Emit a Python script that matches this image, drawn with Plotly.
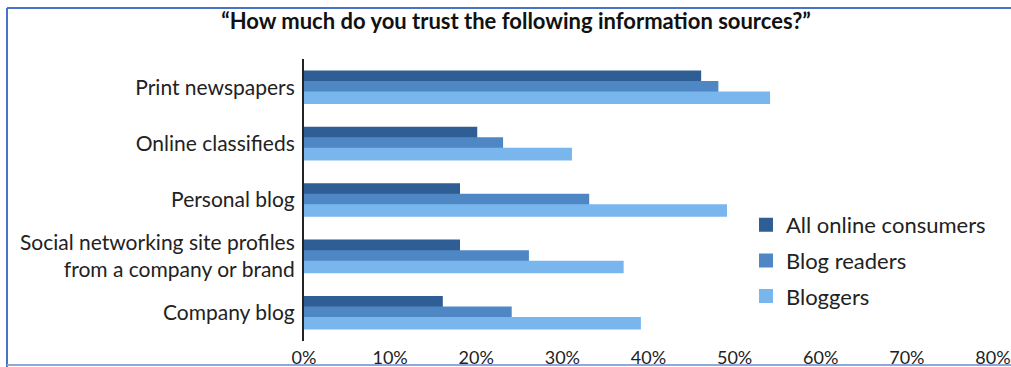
import plotly.graph_objects as go

# Survey categories (top to bottom) and share of respondents who trust each source (%)
categories = [
    "Print newspapers",
    "Online classifieds",
    "Personal blog",
    "Social networking site profiles<br>from a company or brand",
    "Company blog",
]
all_online_consumers = [46, 20, 18, 18, 16]
blog_readers = [48, 23, 33, 26, 24]
bloggers = [54, 31, 49, 37, 39]

series_names = ["All online consumers", "Blog readers", "Bloggers"]
series_values = [all_online_consumers, blog_readers, bloggers]
series_colors = ["#2e5e94", "#4f87c4", "#7ab6ee"]

tick_values = [0, 10, 20, 30, 40, 50, 60, 70, 80]
tick_labels = ["0%", "10%", "20%", "30%", "40%", "50%", "60%", "70%", "80%"]

W, H = 1011, 367
L, R, T, B = 304, 18, 59, 26
pw, ph = W - L - R, H - T - B

FONT = "Lato, 'Open Sans', sans-serif"

fig = go.Figure()
for name, vals, col in zip(series_names, series_values, series_colors):
    fig.add_trace(go.Bar(
        y=categories, x=vals, name=name, orientation="h",
        marker=dict(color=col, line=dict(width=2, color=col)),
        legendgroup=name,
    ))


def px_x(p):
    return (p - L) / pw


def px_y(p):
    return (H - B - p) / ph


# thin blue frame around the figure (left, top, bottom edges)
frame = "#4a73c4"
shapes = [
    dict(type="line", xref="paper", yref="paper", x0=px_x(7), x1=px_x(7),
         y0=px_y(8), y1=px_y(367), line=dict(color=frame, width=2)),
    dict(type="line", xref="paper", yref="paper", x0=px_x(7), x1=px_x(1011),
         y0=px_y(8), y1=px_y(8), line=dict(color=frame, width=2)),
    dict(type="line", xref="paper", yref="paper", x0=px_x(7), x1=px_x(1011),
         y0=px_y(365), y1=px_y(365), line=dict(color="#8fa9dc", width=2)),
]

fig.update_layout(
    width=W, height=H,
    margin=dict(l=L, r=R, t=T, b=B, autoexpand=False),
    paper_bgcolor="white", plot_bgcolor="white",
    barmode="group", bargap=0.44, bargroupgap=0,
    font=dict(family=FONT, color="#222222", size=18),
    title=dict(
        text="<b>\u201cHow much do you trust the following information sources?\u201d</b>",
        x=516 / W, xref="container", xanchor="center",
        y=1 - 21 / H, yref="container", yanchor="middle",
        font=dict(family=FONT, size=22, color="#111111"),
    ),
    xaxis=dict(
        range=[0, 80.001], tickvals=tick_values, ticktext=tick_labels,
        showgrid=False, zeroline=False, showline=False, ticks="",
        tickfont=dict(size=18, color="#222222"), ticklabelstandoff=4,
        ticklabeloverflow="allow", automargin=False, fixedrange=True,
    ),
    yaxis=dict(
        autorange="reversed", showgrid=False, zeroline=False,
        showline=True, linecolor="#222222", linewidth=2, ticks="",
        tickfont=dict(size=21, color="#222222"), ticklabelstandoff=3,
        automargin=False,
    ),
    legend=dict(
        x=px_x(746), xanchor="left", y=px_y(204), yanchor="top",
        font=dict(size=22, color="#222222"), bgcolor="rgba(0,0,0,0)",
        tracegroupgap=4, itemclick=False,
    ),
    shapes=shapes,
    showlegend=True,
)

fig.write_html("out.html")
